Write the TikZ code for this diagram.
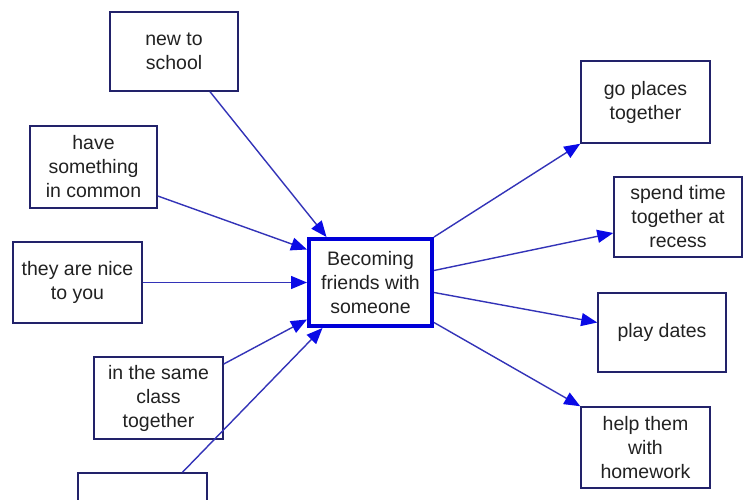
\documentclass[tikz,border=0pt]{standalone}
\usepackage{fontspec}
\setmainfont{Liberation Sans}
\usetikzlibrary{arrows.meta}
\definecolor{boxline}{HTML}{22226A}
\definecolor{conn}{HTML}{3333B8}
\definecolor{tipc}{HTML}{0A0AE6}
\definecolor{mainline}{HTML}{0000D8}
\definecolor{txt}{HTML}{222222}
\tikzset{
  idea/.style={draw=boxline, line width=1.5pt, rectangle, inner sep=0pt, align=center,
    text=txt, font=\fontsize{19.5}{24}\selectfont},
  hub/.style={draw=mainline, line width=4pt, rectangle, inner sep=0pt, align=center,
    text=txt, font=\fontsize{19.5}{24}\selectfont},
  link/.style={draw=conn, line width=1.4pt, -{Triangle[length=16pt,width=13pt,fill=tipc,color=tipc]}}
}
\begin{document}
\begin{tikzpicture}[x=1pt,y=-1pt]
\useasboundingbox (0,0) rectangle (745,500);
\fill[white] (0,0) rectangle (745,500);
\clip (0,0) rectangle (745,500);
\node[hub, minimum width=123pt, minimum height=87pt] (C) at (370.5,282.5) {Becoming\\friends with\\someone};
\node[idea, minimum width=128pt, minimum height=79pt] (nts) at (174,51.5) {new to\\school};
\node[idea, minimum width=127pt, minimum height=82pt] (hs) at (93.5,167) {have\\something\\in common};
\node[idea, minimum width=129pt, minimum height=81pt] (nice) at (77.5,282.5) {they are nice\\to you};
\node[idea, minimum width=129pt, minimum height=82pt] (same) at (158.5,398) {in the same\\class\\together};
\node[idea, minimum width=129pt, minimum height=82pt] (bot) at (142.5,514) {};
\node[idea, minimum width=129pt, minimum height=82pt] (go) at (645.5,102) {go places\\together};
\node[idea, minimum width=128pt, minimum height=80pt] (spend) at (678,217) {spend time\\together at\\recess};
\node[idea, minimum width=128pt, minimum height=79pt] (play) at (662,332.5) {play dates};
\node[idea, minimum width=129pt, minimum height=81pt] (help) at (645.5,447.5) {help them\\with\\homework};

\draw[link] ([xshift=36pt]nts.south) -- ([xshift=-44pt]C.north);
\draw[link] ([yshift=-29pt]hs.east) -- ([yshift=33pt]C.west);
\draw[link] (nice.east) -- (C.west);
\draw[link] ([yshift=34pt]same.east) -- ([yshift=-37pt]C.west);
\draw[link] ([xshift=40pt]bot.north) -- ([xshift=-48pt]C.south);
\draw[link] (C.north east) -- (go.south west);
\draw[link] ([yshift=12pt]C.east) -- ([yshift=-16pt]spend.west);
\draw[link] ([yshift=-10pt]C.east) -- ([yshift=10pt]play.west);
\draw[link] ([yshift=-40pt]C.east) -- (help.north west);
\end{tikzpicture}
\end{document}
